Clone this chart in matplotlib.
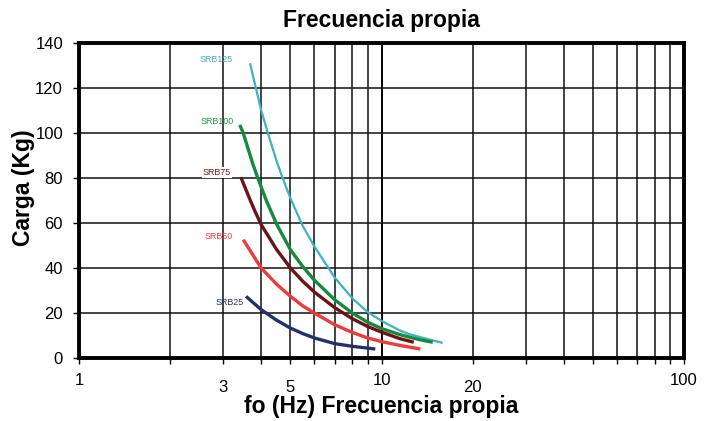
import matplotlib
matplotlib.use('Agg')
import matplotlib.pyplot as plt
from matplotlib.ticker import FixedLocator, FixedFormatter

# Data (frequency in Hz, load in kg)
f_125 = [3.675, 4.0, 4.21, 4.5, 4.71, 5.02, 5.5, 6.0, 7.0, 8.0, 9.0, 10.0, 11.5, 12.36, 13.4, 15.93]
l_125 = [131, 110.2, 100, 87.5, 80, 70.4, 58.5, 49.6, 35.8, 26.6, 20.4, 16.5, 12.2, 10.6, 9.3, 6.7]

f_100 = [3.40, 3.49, 3.75, 3.90, 4.15, 4.5, 5.0, 5.5, 6.0, 7.0, 8.0, 9.0, 10.0, 11.5, 12.36, 13.4, 14.77]
l_100 = [103.6, 100, 86.5, 80, 70.4, 59.5, 48.1, 40.5, 34.6, 25.9, 20.0, 15.9, 13.1, 10.4, 9.3, 8.1, 7.0]

f_75 = [3.43, 3.675, 3.80, 4.0, 4.5, 5.0, 5.5, 6.0, 7.0, 8.0, 9.0, 10.0, 11.5, 12.78]
l_75 = [80.3, 70.4, 65.8, 59.3, 48.2, 40.0, 34.0, 29.3, 22.4, 17.5, 14.0, 11.5, 8.6, 7.0]

f_50 = [3.49, 4.0, 4.5, 5.0, 5.5, 6.0, 7.0, 8.0, 9.0, 10.0, 11.5, 13.44]
l_50 = [52.6, 40.0, 32.8, 27.4, 23.1, 20.0, 14.8, 11.4, 8.9, 7.3, 5.6, 4.0]

f_25 = [3.565, 4.0, 4.5, 5.0, 5.5, 6.0, 7.0, 8.0, 9.54]
l_25 = [27.4, 21.5, 16.8, 13.3, 10.8, 8.9, 6.4, 5.2, 4.0]

names = ['SRB125', 'SRB100', 'SRB75', 'SRB50', 'SRB25']
freqs = [f_125, f_100, f_75, f_50, f_25]
loads = [l_125, l_100, l_75, l_50, l_25]

x_major = [1, 10, 100]
x_minor = [2, 3, 4, 5, 6, 7, 8, 9, 20, 30, 40, 50, 60, 70, 80, 90]
x_minor_labels = ['', '3', '', '5', '', '', '', '', '20', '', '', '', '', '', '', '']
y_ticks = [0, 20, 40, 60, 80, 100, 120, 140]

# styles
colors = ['#3db0ca', '#148a3e', '#6e1214', '#f03a3a', '#22306e']
label_colors = ['#4aa6c6', '#1f9a4a', '#6e1214', '#f03a3a', '#22306e']
widths = [1.6, 2.4, 2.4, 2.4, 2.4]
label_offsets = [(-17, 4), (-6, 3), (-10, 5), (-10, 3), (-2, -6)]

font = ['Liberation Sans', 'DejaVu Sans']

fig = plt.figure(figsize=(7.16, 4.21), dpi=100)
ax = fig.add_axes([79 / 716, 1 - 358 / 421, (684 - 79) / 716, (358 - 43) / 421])

for f, l, c, w in zip(freqs, loads, colors, widths):
    ax.plot(f, l, color=c, linewidth=w, solid_capstyle='butt', solid_joinstyle='round', zorder=3)

for name, f, l, c, off in zip(names, freqs, loads, label_colors, label_offsets):
    bbox = dict(facecolor='white', edgecolor='none', pad=0.5) if name == 'SRB75' else None
    ax.annotate(name, (f[0], l[0]), xytext=off, textcoords='offset pixels',
                ha='right', va='center', fontsize=6.4, color=c,
                family=font, bbox=bbox, zorder=4)

ax.set_xscale('log')
ax.set_xlim(1, 100)
ax.set_ylim(0, 140)

ax.xaxis.set_major_locator(FixedLocator(x_major))
ax.xaxis.set_major_formatter(FixedFormatter([str(v) for v in x_major]))
ax.xaxis.set_minor_locator(FixedLocator(x_minor))
ax.xaxis.set_minor_formatter(FixedFormatter(x_minor_labels))
ax.set_yticks(y_ticks)

ax.tick_params(axis='x', which='major', direction='out', length=4, width=1, pad=7, labelsize=12)
ax.tick_params(axis='x', which='minor', direction='out', length=4, width=1, pad=12, labelsize=12)
ax.tick_params(axis='y', direction='out', length=4.5, width=1, pad=7, labelsize=12)
for lab in ax.get_xticklabels(which='both') + ax.get_yticklabels():
    lab.set_family(font)

ax.grid(True, which='major', axis='x', color='black', linewidth=1.4)
ax.grid(True, which='minor', axis='x', color='#111111', linewidth=1.1)
ax.grid(True, which='major', axis='y', color='#111111', linewidth=1.1)
ax.set_axisbelow(True)

for s in ax.spines.values():
    s.set_linewidth(2.8)
    s.set_zorder(5)

ax.set_title('Frecuencia propia', fontsize=16.5, fontweight='bold', family=font, pad=11.5)
ax.set_xlabel('fo (Hz) Frecuencia propia', fontsize=16.5, fontweight='bold', family=font, labelpad=0)
ax.set_ylabel('Carga (Kg)', fontsize=16.5, fontweight='bold', family=font)
ax.yaxis.set_label_coords(-0.072, 0.541)

fig.savefig('out.png', dpi=100)
